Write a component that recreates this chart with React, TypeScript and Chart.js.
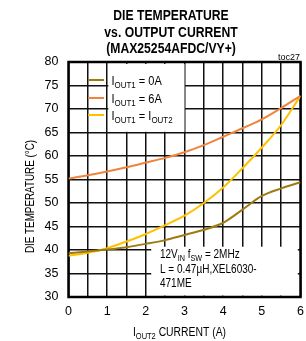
import React, { useEffect, useRef } from "react";
import { Chart, registerables } from "chart.js";
Chart.register(...registerables);

const xValues = [0, 0.5, 1, 1.5, 2, 2.5, 3, 3.5, 4, 4.5, 5, 5.5, 6];
const iout1_0A = [39.3, 39.7, 40.1, 40.6, 41.3, 42.1, 43.2, 44.3, 45.8, 48.6, 51.5, 53.1, 54.4];
const iout1_6A = [55.2, 55.9, 56.7, 57.6, 58.6, 59.6, 60.8, 62.3, 64.1, 65.9, 67.8, 70.2, 72.8];
const iout1_eq = [38.8, 39.4, 40.4, 41.8, 43.4, 45.3, 47.3, 50.0, 53.3, 57.4, 61.8, 66.6, 72.8];

const seriesNames = ["= 0A", "= 6A", "= I"];
const colors = ["#9C7C12", "#F0843C", "#FFC000"];
const titleLines = ["DIE TEMPERATURE", "vs. OUTPUT CURRENT", "(MAX25254AFDC/VY+)"];
const yTitle = "DIE TEMPERATURE (°C)";
const noteLine2 = "L = 0.47µH,XEL6030-";
const noteLine3 = "471ME";

const SANS = "'Liberation Sans', Arial, sans-serif";

type Part = { t: string; sub?: boolean };

function drawRich(ctx: CanvasRenderingContext2D, parts: Part[], x: number, y: number, size: number, sx: number, align: "left" | "center" = "left") {
  const subSize = size * 0.72;
  let total = 0;
  for (const p of parts) {
    ctx.font = `${p.sub ? subSize : size}px ${SANS}`;
    total += ctx.measureText(p.t).width;
  }
  total *= sx;
  const startX = align === "center" ? x - total / 2 : x;
  ctx.save();
  ctx.translate(startX, y);
  ctx.scale(sx, 1);
  ctx.textAlign = "left";
  ctx.textBaseline = "alphabetic";
  let cx = 0;
  for (const p of parts) {
    ctx.font = `${p.sub ? subSize : size}px ${SANS}`;
    ctx.fillText(p.t, cx, p.sub ? 3 : 0);
    cx += ctx.measureText(p.t).width;
  }
  ctx.restore();
}

const decor = {
  id: "decor",
  beforeDatasetsDraw(chart: any) {
    const { ctx, scales } = chart;
    const xs = scales.x, ys = scales.y;
    ctx.save();
    ctx.fillStyle = "#fff";
    // legend box
    ctx.fillRect(xs.getPixelForValue(1.03), ys.getPixelForValue(79.6), xs.getPixelForValue(3.0) - xs.getPixelForValue(1.03), ys.getPixelForValue(65.15) - ys.getPixelForValue(79.6));
    // note box
    ctx.fillRect(xs.getPixelForValue(2.14), ys.getPixelForValue(40.7), xs.getPixelForValue(5.93) - xs.getPixelForValue(2.14), ys.getPixelForValue(30.3) - ys.getPixelForValue(40.7));
    // frame
    const a = chart.chartArea;
    ctx.strokeStyle = "#000";
    ctx.lineWidth = 2.5;
    ctx.strokeRect(a.left, a.top, a.right - a.left, a.bottom - a.top);
    ctx.restore();
  },
  afterDraw(chart: any) {
    const { ctx } = chart;
    ctx.save();
    ctx.fillStyle = "#000";
    // title
    const tb = [20, 36.5, 52.5];
    titleLines.forEach((l, i) => {
      ctx.save();
      ctx.translate(171, tb[i]);
      ctx.scale(0.87, 1);
      ctx.font = `bold 14px ${SANS}`;
      ctx.textAlign = "center";
      ctx.textBaseline = "alphabetic";
      ctx.fillText(l, 0, 0);
      ctx.restore();
    });
    ctx.font = `9px ${SANS}`;
    ctx.textAlign = "right";
    ctx.fillText("toc27", 300, 60);
    // y title
    ctx.save();
    ctx.translate(34, 196.5);
    ctx.rotate(-Math.PI / 2);
    ctx.scale(0.82, 1);
    ctx.textAlign = "center";
    ctx.font = `12px ${SANS}`;
    ctx.fillText(yTitle, 0, 0);
    ctx.restore();
    // x title
    drawRich(ctx, [{ t: "I" }, { t: "OUT2", sub: true }, { t: " CURRENT (A)" }], 179.5, 336, 12.5, 0.83, "center");
    // legend
    const ly = [80, 98, 115];
    const lb = [84.5, 102.5, 119.5];
    for (let i = 0; i < 3; i++) {
      ctx.strokeStyle = colors[i];
      ctx.lineWidth = 2;
      ctx.beginPath();
      ctx.moveTo(88, ly[i]);
      ctx.lineTo(104, ly[i]);
      ctx.stroke();
      const parts: Part[] = [{ t: "I" }, { t: "OUT1", sub: true }, { t: " " + seriesNames[i] }];
      if (i === 2) parts.push({ t: "OUT2", sub: true });
      ctx.fillStyle = "#000";
      drawRich(ctx, parts, 111.5, lb[i], 13, 0.85);
    }
    // note
    drawRich(ctx, [{ t: "12V" }, { t: "IN", sub: true }, { t: " f" }, { t: "SW", sub: true }, { t: " = 2MHz" }], 160, 258, 12.5, 0.8);
    drawRich(ctx, [{ t: noteLine2 }], 160, 273, 12.5, 0.8);
    drawRich(ctx, [{ t: noteLine3 }], 160, 287, 12.5, 0.8);
    ctx.restore();
  },
};

export default function App() {
  const ref = useRef<HTMLCanvasElement>(null);
  useEffect(() => {
    const mk = (d: number[], i: number) => ({
      data: xValues.map((x, k) => ({ x, y: d[k] })),
      borderColor: colors[i],
      backgroundColor: colors[i],
      borderWidth: 2,
      pointRadius: 0,
      cubicInterpolationMode: "monotone" as const,
      fill: false,
    });
    const chart = new Chart(ref.current!, {
      type: "line",
      data: { datasets: [mk(iout1_0A, 0), mk(iout1_6A, 1), mk(iout1_eq, 2)] },
      options: {
        responsive: false,
        animation: false,
        devicePixelRatio: 1,
        layout: { padding: { top: 62, right: 5.5, left: 0, bottom: 0 } },
        plugins: { legend: { display: false }, title: { display: false }, tooltip: { enabled: false } },
        scales: {
          x: {
            type: "linear",
            min: 0,
            max: 6,
            afterFit: (s: any) => { s.height = 44; s.paddingLeft = 0; s.paddingRight = 0; },
            ticks: {
              stepSize: 0.5,
              autoSkip: false,
              maxRotation: 0,
              padding: 7,
              color: "#000",
              font: { family: SANS, size: 12.5 },
              callback: (v: any) => (Number(v) % 1 === 0 ? String(v) : ""),
            },
            grid: { color: "#111", lineWidth: 1.5, drawTicks: false },
            border: { display: false },
          },
          y: {
            type: "linear",
            min: 30,
            max: 80,
            afterFit: (s: any) => { s.width = 68.5; s.paddingTop = 0; s.paddingBottom = 0; },
            ticks: {
              stepSize: 5,
              padding: 10,
              color: "#000",
              font: { family: SANS, size: 12.5 },
            },
            grid: { color: "#111", lineWidth: 1.5, drawTicks: false },
            border: { display: false },
          },
        },
      },
      plugins: [decor],
    });
    return () => chart.destroy();
  }, []);
  return (
    <div style={{ position: "absolute", left: 0, top: 0, width: 306, height: 341, background: "#fff" }}>
      <canvas ref={ref} width={306} height={341} />
    </div>
  );
}
